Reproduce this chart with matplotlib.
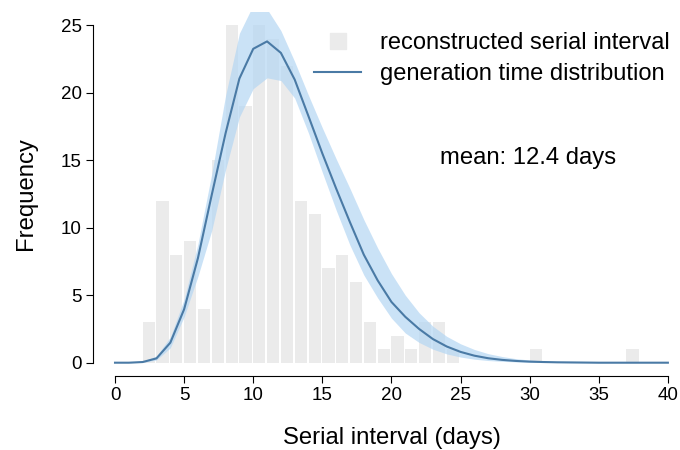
import numpy as np
import matplotlib
matplotlib.use("Agg")
import matplotlib.pyplot as plt
from matplotlib.lines import Line2D

plt.rcParams['font.family'] = ['Liberation Sans', 'DejaVu Sans']

# reconstructed serial interval histogram (counts per 1-day bin, bin starts)
bin_start = np.arange(0, 40)
si_counts = [0, 0, 3, 12, 8, 9, 4, 15, 25, 19,
             25, 24, 22, 12, 11, 7, 8, 6, 3, 1,
             2, 1, 3, 3, 1, 0, 0, 0, 0, 0,
             1, 0, 0, 0, 0, 0, 0, 1, 0, 0]

# generation time distribution (scaled to counts), evaluated at integer days
days = np.arange(0, 41)
gt_mean = [0, 0, 0.05, 0.32, 1.48, 3.96, 7.75, 12.44, 17.0, 21.05,
           23.25, 23.8, 22.95, 20.97, 18.25, 15.5, 12.9, 10.4, 8.0, 6.1,
           4.5, 3.4, 2.5, 1.75, 1.2, 0.8, 0.52, 0.33, 0.21, 0.13,
           0.08, 0.05, 0.03, 0.02, 0.01, 0, 0, 0, 0, 0, 0]
gt_lower = [0, 0, 0.02, 0.2, 1.1, 3.4, 6.4, 9.8, 14.3, 18.2,
            20.3, 21.1, 20.9, 19.6, 17.0, 14.1, 11.3, 8.7, 6.5, 4.8,
            3.3, 2.2, 1.5, 1.0, 0.65, 0.42, 0.26, 0.16, 0.1, 0.06,
            0.03, 0.02, 0.01, 0, 0, 0, 0, 0, 0, 0, 0]
gt_upper = [0, 0, 0.1, 0.5, 1.9, 4.7, 8.8, 14.0, 19.8, 24.4,
            26.5, 26.2, 24.6, 22.3, 19.8, 17.4, 15.1, 12.9, 10.6, 8.5,
            6.6, 5.0, 3.7, 2.7, 1.95, 1.4, 0.98, 0.67, 0.46, 0.3,
            0.2, 0.13, 0.08, 0.05, 0.03, 0.02, 0.01, 0.01, 0, 0, 0]

bar_col = '#ebebeb'
line_col = '#4a7aa5'
band_col = '#b4d6f3'

fig = plt.figure(figsize=(6.8, 4.5), dpi=100)
ax = fig.add_axes([92.9/680, 1-376.2/450, (690-92.9)/680, (376.2-11.7)/450])

ax.bar(bin_start, si_counts, width=0.88, align='edge', color=bar_col, zorder=1)
ax.fill_between(days, gt_lower, gt_upper, color=band_col, alpha=0.7, lw=0, zorder=2)
ax.plot(days, gt_mean, color=line_col, lw=1.5, zorder=3)

ax.set_xlim(-1.6, 41.6)
ax.set_ylim(-1, 26)
ax.spines['top'].set_visible(False)
ax.spines['right'].set_visible(False)
ax.spines['left'].set_bounds(0, 25)
ax.spines['bottom'].set_bounds(0, 40)
ax.set_xticks(range(0, 41, 5))
ax.set_yticks(range(0, 26, 5))
ax.tick_params(labelsize=13.5, length=5, width=0.8, pad=3)

ax.set_xlabel('Serial interval (days)', fontsize=17.2, labelpad=16)
ax.set_ylabel('Frequency', fontsize=17.2, labelpad=17)

handles = [Line2D([], [], marker='s', ls='none', color=bar_col, markersize=11),
           Line2D([], [], color=line_col, lw=1.5)]
fig.legend(handles, ['reconstructed serial interval', 'generation time distribution'],
           loc='upper left', bbox_to_anchor=(314/680, 1-32/450), frameon=False,
           fontsize=17.0, handlelength=2.0, handletextpad=0.8, labelspacing=0.4,
           borderpad=0, borderaxespad=0)

fig.text(440/680, 1-158/450, 'mean: 12.4 days', fontsize=17.2, va='center', ha='left')

fig.savefig('out.png', dpi=100)
